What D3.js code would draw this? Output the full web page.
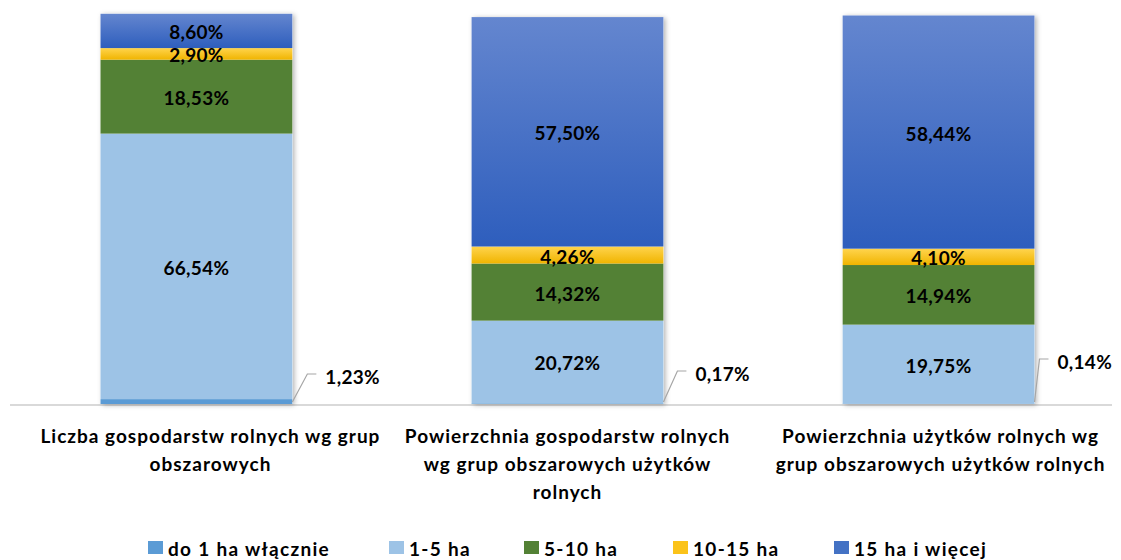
<!DOCTYPE html>
<html>
<head>
<meta charset="utf-8">
<script src="https://cdn.jsdelivr.net/npm/d3@7"></script>
<style>
  body { margin: 0; background: #fff; }
  svg { display: block; font-family: Lato, "Open Sans", sans-serif; font-weight: bold; }
</style>
</head>
<body>
<svg width="1121" height="560"></svg>
<script>
const categories = [
  "Liczba gospodarstw rolnych wg grup obszarowych",
  "Powierzchnia gospodarstw rolnych wg grup obszarowych użytków rolnych",
  "Powierzchnia użytków rolnych wg grup obszarowych użytków rolnych"
];
const categoryLines = [
  ["Liczba gospodarstw rolnych wg grup", "obszarowych"],
  ["Powierzchnia gospodarstw rolnych", "wg grup obszarowych użytków", "rolnych"],
  ["Powierzchnia użytków rolnych wg", "grup obszarowych użytków rolnych"]
];
const seriesNames = ["do 1 ha włącznie", "1-5 ha", "5-10 ha", "10-15 ha", "15 ha i więcej"];
const do1ha = [1.23, 0.17, 0.14];
const ha1to5 = [66.54, 20.72, 19.75];
const ha5to10 = [18.53, 14.32, 14.94];
const ha10to15 = [2.90, 4.26, 4.10];
const ha15plus = [8.60, 57.50, 58.44];
const seriesValues = [do1ha, ha1to5, ha5to10, ha10to15, ha15plus];

const svg = d3.select("svg");

const x = d3.scaleBand().domain(categories).range([7, 1128]).paddingInner(0.483).paddingOuter(0.252);
const y = d3.scaleLinear().domain([0, 100]).range([404, 5]);

const defs = svg.append("defs");
const shadow = defs.append("filter").attr("id", "shadow")
  .attr("x", "-10%").attr("y", "-10%").attr("width", "130%").attr("height", "130%");
shadow.append("feDropShadow").attr("dx", 2).attr("dy", 1).attr("stdDeviation", 2.5)
  .attr("flood-color", "#000").attr("flood-opacity", 0.3);

function grad(id, top, bottom) {
  const g = defs.append("linearGradient").attr("id", id).attr("x1", 0).attr("y1", 0).attr("x2", 0).attr("y2", 1);
  g.append("stop").attr("offset", "0%").attr("stop-color", top);
  g.append("stop").attr("offset", "100%").attr("stop-color", bottom);
}
grad("gYellow", "#ffd44d", "#f0b400");
grad("gBlue", "#6486cf", "#2e5ebd");

const fills = ["#5b9bd5", "#9dc3e6", "#538135", "url(#gYellow)", "url(#gBlue)"];
const legendFills = ["#5b9bd5", "#9dc3e6", "#538135", "#fbc31a", "#4472c4"];

// axis line
svg.append("line").attr("x1", 10).attr("x2", 1112).attr("y1", 405).attr("y2", 405)
  .attr("stroke", "#d9d9d9").attr("stroke-width", 2);

const stackData = categories.map((c, i) => {
  const o = { cat: c };
  seriesNames.forEach((s, j) => o[s] = seriesValues[j][i]);
  return o;
});
const stacked = d3.stack().keys(seriesNames)(stackData);
const topLayer = stacked[stacked.length - 1];

const bars = svg.append("g");
// shadow under each whole bar
bars.selectAll("rect.sh").data(stackData).join("rect")
  .attr("class", "sh")
  .attr("x", d => x(d.cat)).attr("width", x.bandwidth())
  .attr("y", (d, i) => y(topLayer[i][1]))
  .attr("height", (d, i) => y(0) - y(topLayer[i][1]))
  .attr("fill", "#fff").attr("filter", "url(#shadow)");

stacked.forEach((layer, j) => {
  bars.selectAll("rect.s" + j).data(layer).join("rect")
    .attr("class", "s" + j)
    .attr("x", d => x(d.data.cat)).attr("width", x.bandwidth())
    .attr("y", d => y(d[1])).attr("height", d => y(d[0]) - y(d[1]))
    .attr("fill", fills[j]);
});

const fmt = v => v.toFixed(2).replace(".", ",") + "%";

// labels inside segments
stacked.forEach((layer, j) => {
  if (j === 0) return;
  svg.append("g").selectAll("text").data(layer).join("text")
    .attr("x", d => x(d.data.cat) + x.bandwidth() / 2)
    .attr("y", d => (y(d[0]) + y(d[1])) / 2 + 1)
    .attr("text-anchor", "middle").attr("dominant-baseline", "central")
    .attr("font-size", 19).attr("letter-spacing", 0.3).attr("fill", "#000")
    .text(d => fmt(d[1] - d[0]));
});

// callout labels for the smallest series
const calloutRise = [28, 31, 43];
const calloutKnee = [15, 14, 5];
stacked[0].forEach((d, i) => {
  const x0 = x(d.data.cat) + x.bandwidth();
  const y0 = y(0) - 2;
  const ky = y0 - calloutRise[i];
  const kx = x0 + calloutKnee[i];
  svg.append("polyline")
    .attr("points", `${x0},${y0} ${kx},${ky} ${kx + 9},${ky}`)
    .attr("fill", "none").attr("stroke", "#a6a6a6").attr("stroke-width", 1.2);
  svg.append("text")
    .attr("x", kx + 18).attr("y", ky + 2)
    .attr("dominant-baseline", "central")
    .attr("font-size", 19).attr("letter-spacing", 0.3).attr("fill", "#000")
    .text(fmt(d[1] - d[0]));
});

// category labels (first one sits a bit right of its bar)
const labelShift = [14, 0, 2];
categories.forEach((c, i) => {
  const cx = x(c) + x.bandwidth() / 2 + labelShift[i];
  const t = svg.append("text")
    .attr("x", cx).attr("y", 443)
    .attr("text-anchor", "middle").attr("font-size", 19).attr("letter-spacing", 1).attr("fill", "#000");
  categoryLines[i].forEach((line, k) => {
    t.append("tspan").attr("x", cx).attr("dy", k === 0 ? 0 : 28).text(line);
  });
});

// legend
const legendX = [148, 389, 524, 673, 834];
const legend = svg.append("g").selectAll("g").data(seriesNames).join("g")
  .attr("transform", (d, i) => `translate(${legendX[i]},541)`);
legend.append("rect").attr("width", 15).attr("height", 13).attr("fill", (d, i) => legendFills[i]);
legend.append("text").attr("x", 20).attr("y", 7).attr("dominant-baseline", "central")
  .attr("font-size", 19).attr("letter-spacing", 1.3).attr("fill", "#000").text(d => d);
</script>
</body>
</html>
